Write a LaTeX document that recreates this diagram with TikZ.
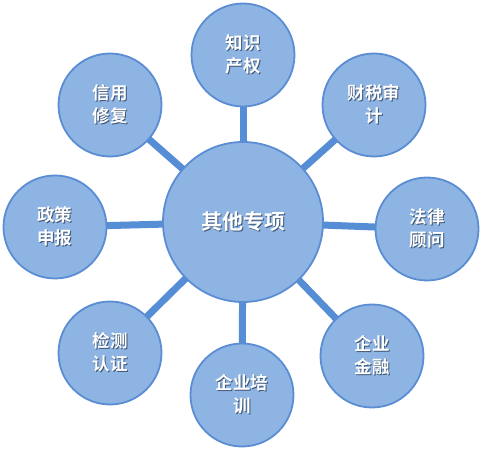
\documentclass[tikz,border=0pt]{standalone}
\usepackage{fontspec}
\newfontfamily\cjk{Noto Sans CJK SC}[BoldFont={* Bold}]
\usetikzlibrary{backgrounds}
\definecolor{fillc}{HTML}{8EB4E3}
\definecolor{edgec}{HTML}{5A8DD3}
\definecolor{linkc}{HTML}{558ED5}
\definecolor{shadc}{HTML}{3F5675}
\newcommand\shl[1]{\leavevmode\rlap{\hspace{1pt}\raisebox{-1pt}{\color{shadc}#1}}#1}
\tikzset{
  hub/.style={circle, draw=edgec, line width=1.8pt, fill=fillc, minimum size=160pt, inner sep=0pt,
    text=white, font=\cjk\bfseries\fontsize{21}{25}\selectfont, align=center},
  leaf/.style={circle, draw=edgec, line width=1.8pt, fill=fillc, minimum size=103pt, inner sep=0pt,
    text=white, font=\cjk\bfseries\fontsize{17.5}{23}\selectfont, align=center},
  link/.style={draw=linkc, line width=7pt}
}
\begin{document}
\begin{tikzpicture}[x=1pt,y=-1pt]
\useasboundingbox (0,0) rectangle (488,454);
\node[hub] (c) at (243,222) {\shl{其他专项}};
\node[leaf] (n1) at (243,55) {\shl{知识}\\\shl{产权}};
\node[leaf] (n2) at (374,105) {\shl{财税审}\\\shl{计}};
\node[leaf] (n3) at (427,229) {\shl{法律}\\\shl{顾问}};
\node[leaf] (n4) at (372,356) {\shl{企业}\\\shl{金融}};
\node[leaf] (n5) at (242,395) {\shl{企业培}\\\shl{训}};
\node[leaf] (n6) at (110,353) {\shl{检测}\\\shl{认证}};
\node[leaf] (n7) at (55,227) {\shl{政策}\\\shl{申报}};
\node[leaf] (n8) at (110,105) {\shl{信用}\\\shl{修复}};
\begin{pgfonlayer}{background}
\foreach \n in {n1,n2,n3,n4,n5,n6,n7,n8} \draw[link] (c.center) -- (\n.center);
\end{pgfonlayer}
\end{tikzpicture}
\end{document}
